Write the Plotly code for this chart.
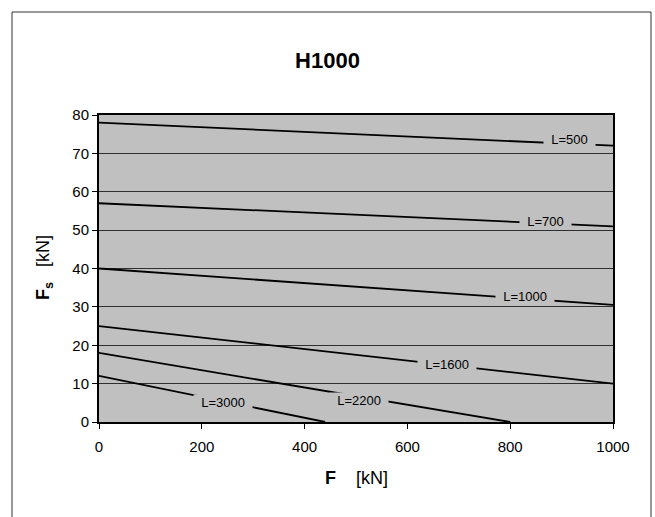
import plotly.graph_objects as go

# ---- data ----
series_names = ["L=500", "L=700", "L=1000", "L=1600", "L=2200", "L=3000"]
series_x = [[0, 1000], [0, 1000], [0, 1000], [0, 1000], [0, 800], [0, 440]]
series_y = [[78, 72], [57, 51], [40, 30.5], [25, 10], [18, 0], [12, 0]]
label_x = [916, 868, 829, 677, 506, 241]
label_y = [73.7, 52.3, 32.6, 15.1, 5.5, 5.0]
x_ticks = [0, 200, 400, 600, 800, 1000]
y_ticks = [0, 10, 20, 30, 40, 50, 60, 70, 80]

W, H = 655, 517
ML, MR, MT, MB = 99, 42, 115, 95
PW, PH = W - ML - MR, H - MT - MB
FONT = "Arial, Liberation Sans, sans-serif"
BG = "#C0C0C0"


def px2x(px):
    return (px - ML) / PW


def py2y(py):
    return (H - MB - py) / PH


fig = go.Figure()
for name, xs, ys in zip(series_names, series_x, series_y):
    fig.add_trace(go.Scatter(x=xs, y=ys, mode="lines", name=name,
                             line=dict(color="black", width=1.8),
                             showlegend=False, hoverinfo="skip"))

nb = "\u00a0"
annotations = []
for name, lx, ly in zip(series_names, label_x, label_y):
    annotations.append(dict(x=lx, y=ly, xref="x", yref="y", text=nb * 2 + name + nb * 2,
                            showarrow=False, bgcolor=BG, borderpad=0,
                            font=dict(family=FONT, size=13, color="black"),
                            xanchor="center", yanchor="middle"))

# axis titles
annotations.append(dict(x=px2x(356), y=py2y(478), xref="paper", yref="paper",
                        text="<b>F</b>" + nb * 4 + "[kN]", showarrow=False,
                        font=dict(family=FONT, size=18, color="black"),
                        xanchor="center", yanchor="middle"))
annotations.append(dict(x=px2x(44), y=py2y(268), xref="paper", yref="paper",
                        text="<b>F<sub>s</sub></b>" + nb * 3 + "[kN]", showarrow=False,
                        textangle=-90,
                        font=dict(family=FONT, size=18, color="black"),
                        xanchor="center", yanchor="middle"))

fig.update_layout(
    width=W, height=H,
    margin=dict(l=ML, r=MR, t=MT, b=MB),
    paper_bgcolor="white", plot_bgcolor=BG,
    title=dict(text="<b>H1000</b>", x=0.5, xref="paper", xanchor="center",
               y=1 - 60 / H, yanchor="middle",
               font=dict(family=FONT, size=22, color="black")),
    annotations=annotations,
    shapes=[dict(type="rect", xref="paper", yref="paper",
                 x0=px2x(12), x1=px2x(651), y0=py2y(12), y1=py2y(560),
                 line=dict(color="#333333", width=1), fillcolor="rgba(0,0,0,0)",
                 layer="below")],
    font=dict(family=FONT, color="black"),
)
fig.update_layout(title_x=(W / 2 - ML) / PW)

fig.update_xaxes(range=[0, 1000], tickvals=x_ticks, ticktext=[str(v) for v in x_ticks],
                 ticks="outside", ticklen=5, tickcolor="black", tickwidth=1,
                 ticklabelstandoff=5,
                 showline=True, linecolor="black", linewidth=2, mirror=True,
                 showgrid=False, zeroline=False,
                 tickfont=dict(family=FONT, size=15, color="black"))
fig.update_yaxes(range=[0, 80], tickvals=y_ticks, ticktext=[str(v) for v in y_ticks],
                 ticks="outside", ticklen=5, tickcolor="black", tickwidth=1,
                 showline=True, linecolor="black", linewidth=2, mirror=True,
                 showgrid=True, gridcolor="#303030", gridwidth=1, zeroline=False,
                 tickfont=dict(family=FONT, size=15, color="black"))

fig.write_html("out.html")
